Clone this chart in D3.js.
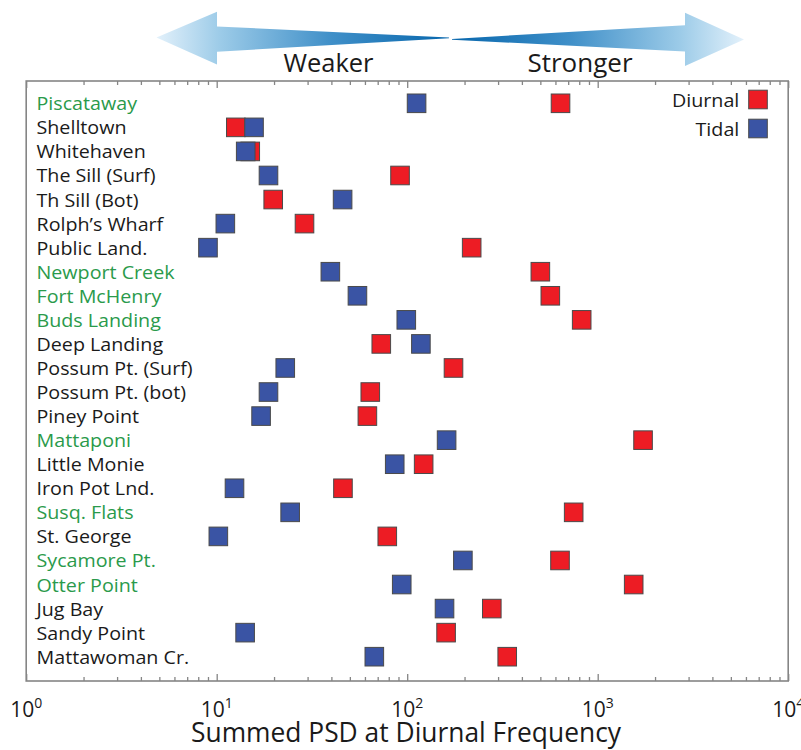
<!DOCTYPE html>
<html>
<head>
<meta charset="utf-8">
<script src="https://cdn.jsdelivr.net/npm/d3@7"></script>
<style>
  html, body { margin: 0; padding: 0; background: #fff; }
  svg { display: block; font-family: "Open Sans", "DejaVu Sans", sans-serif; }
</style>
</head>
<body>
<svg id="chart" width="801" height="750"></svg>
<script>
// Stations, top to bottom
const sites = [
  "Piscataway", "Shelltown", "Whitehaven", "The Sill (Surf)", "Th Sill (Bot)",
  "Rolph\u2019s Wharf", "Public Land.", "Newport Creek", "Fort McHenry", "Buds Landing",
  "Deep Landing", "Possum Pt. (Surf)", "Possum Pt. (bot)", "Piney Point", "Mattaponi",
  "Little Monie", "Iron Pot Lnd.", "Susq. Flats", "St. George", "Sycamore Pt.",
  "Otter Point", "Jug Bay", "Sandy Point", "Mattawoman Cr."
];

// Summed PSD at the diurnal frequency
const diurnal = [
  638, 12.6, 15.0, 91.7, 19.8,
  28.9, 218, 500, 564, 824,
  73.1, 175, 64, 61.8, 1730,
  122, 46, 748, 78.6, 634,
  1545, 278, 160, 335
];

// Summed PSD, tidal band
const tidal = [
  112, 15.7, 14.2, 18.7, 45.8,
  11.1, 9.0, 39.5, 54.8, 98.9,
  118, 22.9, 18.7, 17.1, 161,
  86, 12.4, 24.3, 10.2, 196,
  93.6, 157, 14.1, 67.2
];

// Stations whose names are shown in green
const greenSites = [
  "Piscataway", "Newport Creek", "Fort McHenry", "Buds Landing", "Mattaponi",
  "Susq. Flats", "Sycamore Pt.", "Otter Point"
];

// Axis decades
const decades = [1, 10, 100, 1000, 10000];
const exponents = ["0", "1", "2", "3", "4"];

const seriesNames = ["Diurnal", "Tidal"];

const svg = d3.select("#chart");

const box = { left: 26.2, right: 788.2, top: 81, bottom: 681 };
const RED = "#ed1c24", BLUE = "#3a54a4", GREEN = "#2a9a4b", INK = "#1a1a1a";
const AXIS = "#858585";
const SQ = 18.6;
const LABEL_SIZE = 18.4;
const LABEL_STRETCH = 1.07;

const x = d3.scaleLog().domain([1, 10000]).range([box.left, box.right]);
const y = d3.scalePoint().domain(sites).range([103.3, 656.7]);

// ---- Direction arrows above the plot ----
const defs = svg.append("defs");
function arrowGradient(id, x1, x2) {
  const g = defs.append("linearGradient").attr("id", id)
    .attr("gradientUnits", "userSpaceOnUse")
    .attr("x1", x1).attr("x2", x2).attr("y1", 0).attr("y2", 0);
  g.append("stop").attr("offset", "0%").attr("stop-color", "#e3f1fb");
  g.append("stop").attr("offset", "22%").attr("stop-color", "#9ccbe8");
  g.append("stop").attr("offset", "60%").attr("stop-color", "#3f8fc8");
  g.append("stop").attr("offset", "100%").attr("stop-color", "#0867ad");
}
const mid = 451;
arrowGradient("gradL", 156, mid - 2);
arrowGradient("gradR", 744, mid + 2);

const leftArrow = [
  [mid - 2, 38.2], [217, 51.7], [217, 64.5], [156.5, 37.6], [217, 11.7], [217, 26.5], [mid - 2, 37.4]
];
const rightArrow = [
  [mid + 1, 38.9], [685, 25.2], [685, 12.7], [744, 39.6], [685, 66], [685, 51.5], [mid + 1, 39.7]
];
const line = d3.line();
svg.append("path").attr("d", line(leftArrow) + "Z").attr("fill", "url(#gradL)");
svg.append("path").attr("d", line(rightArrow) + "Z").attr("fill", "url(#gradR)");

svg.append("text").text("Weaker")
  .attr("x", 328.5).attr("y", 71.7).attr("text-anchor", "middle")
  .attr("font-size", 25.5).attr("fill", INK)
  .attr("textLength", 90).attr("lengthAdjust", "spacingAndGlyphs");
svg.append("text").text("Stronger")
  .attr("x", 580).attr("y", 71.7).attr("text-anchor", "middle")
  .attr("font-size", 25.5).attr("fill", INK)
  .attr("textLength", 105).attr("lengthAdjust", "spacingAndGlyphs");

// ---- Axes (ticks pointing inward on top and bottom) ----
const minorTicks = [];
for (let d = 1; d < 10000; d *= 10) {
  for (let k = 2; k <= 9; k++) minorTicks.push(d * k);
}

function styleAxis(g) {
  g.select(".domain").remove();
  g.selectAll(".tick line").attr("stroke", AXIS).attr("stroke-width", 1.3);
  g.selectAll(".tick text").remove();
}

svg.append("g").attr("transform", `translate(0,${box.bottom})`)
  .call(d3.axisBottom(x).tickValues(decades).tickSizeInner(-7).tickSizeOuter(0).tickFormat(""))
  .call(styleAxis);
svg.append("g").attr("transform", `translate(0,${box.bottom})`)
  .call(d3.axisBottom(x).tickValues(minorTicks).tickSizeInner(-4).tickSizeOuter(0).tickFormat(""))
  .call(styleAxis);
svg.append("g").attr("transform", `translate(0,${box.top})`)
  .call(d3.axisTop(x).tickValues(decades).tickSizeInner(-7).tickSizeOuter(0).tickFormat(""))
  .call(styleAxis);
svg.append("g").attr("transform", `translate(0,${box.top})`)
  .call(d3.axisTop(x).tickValues(minorTicks).tickSizeInner(-4).tickSizeOuter(0).tickFormat(""))
  .call(styleAxis);

// Plot frame
svg.append("rect")
  .attr("x", box.left).attr("y", box.top)
  .attr("width", box.right - box.left).attr("height", box.bottom - box.top)
  .attr("fill", "none").attr("stroke", AXIS).attr("stroke-width", 1.6);

// Decade labels 10^n
const tickLabels = svg.append("g").attr("fill", INK);
decades.forEach((d, i) => {
  const t = tickLabels.append("text")
    .attr("x", x(d)).attr("y", 716.7).attr("text-anchor", "middle")
    .attr("font-size", 21);
  t.append("tspan").text("10");
  t.append("tspan").text(exponents[i]).attr("font-size", 14).attr("dy", -9);
});

svg.append("text").text("Summed PSD at Diurnal Frequency")
  .attr("x", 406).attr("y", 742.3).attr("text-anchor", "middle")
  .attr("font-size", 26.5).attr("fill", INK)
  .attr("textLength", 430).attr("lengthAdjust", "spacingAndGlyphs");

// ---- Station names ----
svg.append("g").selectAll("text").data(sites).join("text")
  .text(d => d)
  .attr("transform", d => `translate(36.5,${y(d) + 7}) scale(${LABEL_STRETCH},1)`)
  .attr("font-size", LABEL_SIZE)
  .attr("fill", d => greenSites.includes(d) ? GREEN : INK);

// ---- Markers: diurnal drawn first, tidal on top ----
const rows = sites.map((s, i) => ({ site: s, diurnal: diurnal[i], tidal: tidal[i] }));

function drawSeries(key, color) {
  svg.append("g").selectAll("rect").data(rows).join("rect")
    .attr("x", d => x(d[key]) - SQ / 2)
    .attr("y", d => y(d.site) - SQ / 2)
    .attr("width", SQ).attr("height", SQ)
    .attr("fill", color)
    .attr("stroke", "#4a4a4a").attr("stroke-width", 1);
}
drawSeries("diurnal", RED);
drawSeries("tidal", BLUE);

// ---- Legend ----
const legend = svg.append("g");
[[seriesNames[0], RED, 99.5], [seriesNames[1], BLUE, 128.5]].forEach(([name, color, cy]) => {
  legend.append("text").text(name)
    .attr("transform", `translate(739.3,${cy + 7.4}) scale(${LABEL_STRETCH},1)`)
    .attr("text-anchor", "end")
    .attr("font-size", LABEL_SIZE).attr("fill", INK);
  legend.append("rect")
    .attr("x", 758 - SQ / 2).attr("y", cy - SQ / 2)
    .attr("width", SQ).attr("height", SQ)
    .attr("fill", color).attr("stroke", "#4a4a4a").attr("stroke-width", 1);
});
</script>
</body>
</html>
